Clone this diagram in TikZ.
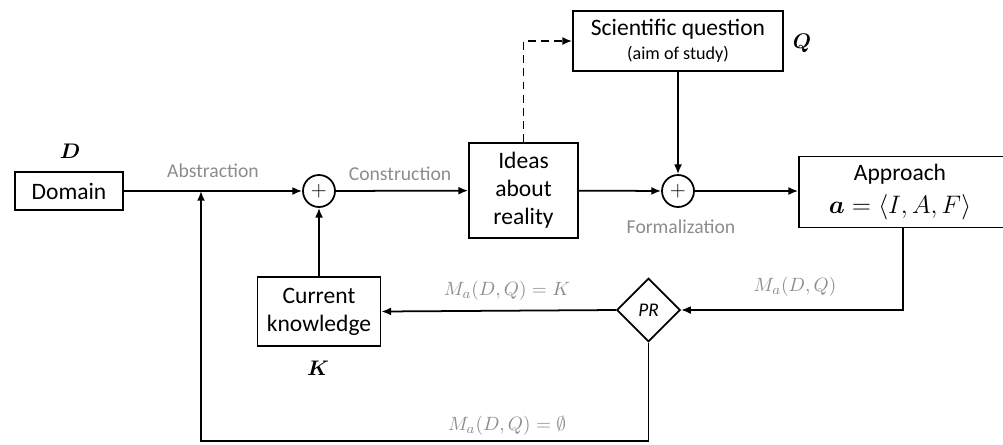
\documentclass[tikz,border=0pt]{standalone}
\usepackage{amsmath}
\usepackage{bm}
\usepackage{fontspec}
\setmainfont{Carlito}
\usetikzlibrary{shapes.geometric, arrows.meta}

\begin{document}
\begin{tikzpicture}[x=0.02cm, y=-0.02cm, line width=1pt,
    >={Latex[length=5.5pt, width=4.5pt]},
    box/.style={draw, align=center, inner sep=0pt,
      font=\fontsize{13.4}{16}\selectfont},
    sumnode/.style={draw, circle, minimum size=0.64cm, inner sep=0pt,
      font=\fontsize{13}{15}\selectfont},
    lbl/.style={text=black!45, font=\fontsize{11.2}{13}\selectfont},
    sym/.style={font=\fontsize{13}{15}\selectfont}]
  \useasboundingbox (0,0) rectangle (1003,444);

  % Boxes
  \node[box, minimum width=2.16cm, minimum height=0.76cm] (dom) at (69,191) {Domain};
  \node[box, minimum width=2.18cm, minimum height=1.9cm] (ideas) at (523.5,190.5) {Ideas\\about\\reality};
  \node[box, minimum width=4.2cm, minimum height=1.2cm] (sq) at (678,41)
    {Scientific question\\[-2pt]{\fontsize{10.3}{12}\selectfont(aim of study)}};
  % right side of the approach box runs off the page
  \node[box, minimum width=4.7cm, minimum height=1.42cm] (app) at (916.5,192) {};
  \node[align=center, inner sep=0pt, font=\fontsize{13.4}{16}\selectfont] (apptxt) at (900,192)
    {Approach\\[3pt]$\bm{a} = \langle I, A, F\rangle$};
  \node[box, minimum width=2.46cm, minimum height=1.38cm] (ck) at (319,311.5) {Current\\knowledge};

  % Summing points and decision
  \node[sumnode] (s1) at (319,191) {$+$};
  \node[sumnode] (s2) at (678,191) {$+$};
  \node[draw, diamond, shape aspect=1, minimum size=1.27cm, inner sep=0pt,
    font=\fontsize{11}{13}\selectfont\itshape] (pr) at (648.5,310) {PR};

  % Symbols
  \node[sym] (symD) at (70,151) {$\bm{D}$};
  \node[sym] (symQ) at (802,43) {$\bm{Q}$};
  \node[sym] (symK) at (318,368) {$\bm{K}$};

  % Flow
  \coordinate (abs) at (201,191);
  \coordinate (bl) at (201,441);
  \coordinate (appout) at (903,227);
  \draw[->] (dom) -- (s1);
  \draw[->] (s1) -- (ideas);
  \draw[->] (ideas) -- (s2);
  \draw[->] (s2) -- (app.west |- s2);
  \draw[->] (sq) -- (s2);
  \draw[->, dashed, dash pattern=on 4.5pt off 3pt] (ideas.north) |- (sq.west);
  \draw[->] (appout) |- (pr.east);
  \draw[->] (pr.west) -- (ck.east);
  \draw[->] (ck.north) -- (s1.south);
  \draw[->] (pr.south) |- (bl) -- (abs);

  % Labels
  \node[lbl] (labs) at (213,171) {Abstraction};
  \node[lbl] (lcon) at (400,174) {Construction};
  \node[lbl] (lfor) at (681,227) {Formalization};
  \node[lbl] (lm) at (795,287) {$M_a(D,Q)$};
  \node[lbl] (lmk) at (507,291) {$M_a(D,Q) = K$};
  \node[lbl] (lme) at (507,426) {$M_a(D,Q) = \emptyset$};
\end{tikzpicture}
\end{document}
